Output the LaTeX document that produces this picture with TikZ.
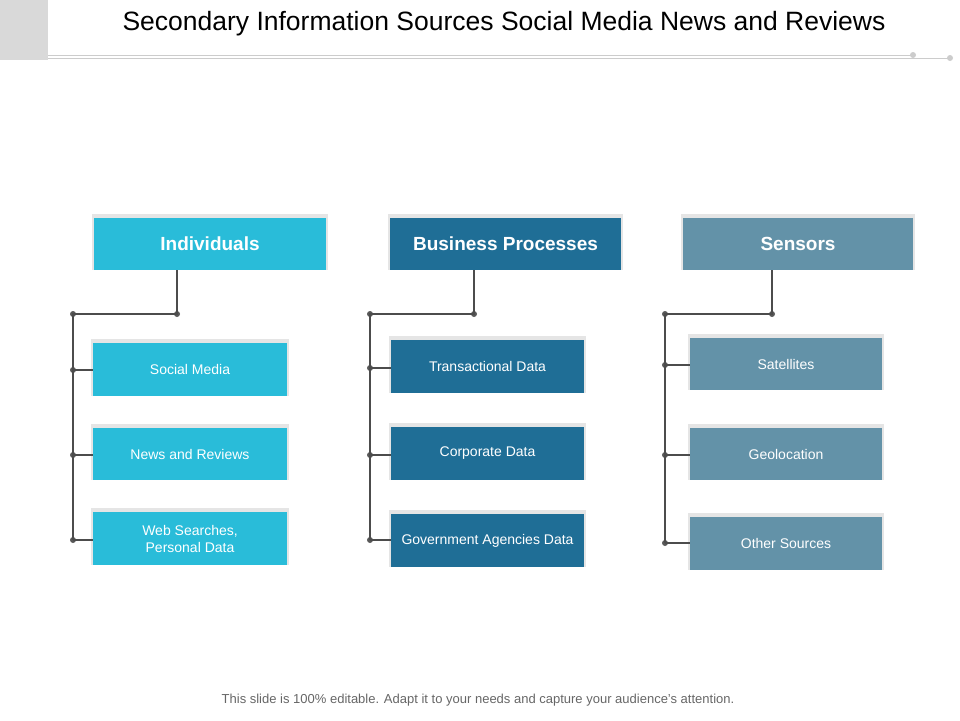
\documentclass[tikz,border=0pt]{standalone}
\usepackage{fontspec}
\setmainfont{Liberation Sans}
\begin{document}
\begin{tikzpicture}[x=1pt,y=-1pt,
  hd/.style={font=\bfseries\fontsize{19}{22}\selectfont,text=white,inner sep=0},
  sb/.style={font=\fontsize{14}{17}\selectfont,text=white,align=center,inner sep=0},
  ln/.style={draw=black!70,line width=1.1pt},
  dt/.style={circle,fill=black!65,inner sep=0,minimum size=6pt}]
\definecolor{cA}{HTML}{29BCD9}\definecolor{cB}{HTML}{1F6E96}\definecolor{cC}{HTML}{6392A8}
\useasboundingbox (0,0) rectangle (960,720);
\fill[black!15] (0,0) rectangle (48,60);
\draw[black!20] (48,55) -- (913,55);
\draw[black!20] (48,58) -- (950,58);
\node[dt,fill=black!20] (t1) at (913,55) {};
\node[dt,fill=black!20] (t2) at (950,58) {};
\node (title) at (504,24) {\fontsize{26.5}{30}\selectfont Secondary Information Sources Social Media News and Reviews};
\node (foot) at (478,700) {\fontsize{13}{15}\selectfont\color{black!60}This slide is 100\% editable. Adapt it to your needs and capture your audience's attention.};
\newcommand\bx[7]{%
  \fill[black!10] (#3-2,#4-4) rectangle (#5+2,#6);
  \fill[#2] (#3,#4) rectangle (#5,#6);
  \node[#7] (#1) at ({(#3+#5)/2},{(#4+#6)/2}) {};}
\newcommand\lab[3]{\node[#2] at (#1) {#3};}
\bx{h1}{cA}{94}{218}{326}{270}{inner sep=0}\lab{h1}{hd}{Individuals}
\bx{h2}{cB}{390}{218}{621}{270}{inner sep=0}\lab{h2}{hd}{Business Processes}
\bx{h3}{cC}{683}{218}{913}{270}{inner sep=0}\lab{h3}{hd}{Sensors}
\bx{a1}{cA}{93}{343}{287}{396}{inner sep=0}\lab{a1}{sb}{Social Media}
\bx{a2}{cA}{93}{428}{287}{480}{inner sep=0}\lab{a2}{sb}{News and Reviews}
\bx{a3}{cA}{93}{512}{287}{565}{inner sep=0}\lab{a3}{sb}{Web Searches,\\Personal Data}
\bx{b1}{cB}{391}{340}{584}{393}{inner sep=0}\lab{b1}{sb}{Transactional Data}
\bx{b2}{cB}{391}{427}{584}{480}{inner sep=0}\lab{b2}{sb}{Corporate Data}
\bx{b3}{cB}{391}{514}{584}{567}{inner sep=0}\lab{b3}{sb}{Government Agencies Data}
\bx{c1}{cC}{690}{338}{882}{390}{inner sep=0}\lab{c1}{sb}{Satellites}
\bx{c2}{cC}{690}{428}{882}{480}{inner sep=0}\lab{c2}{sb}{Geolocation}
\bx{c3}{cC}{690}{517}{882}{570}{inner sep=0}\lab{c3}{sb}{Other Sources}
\foreach \h/\hx/\vx/\ya/\yb/\yc/\la/\lb/\lc/\p in {h1/177/73/370/455/540/93/93/93/a,h2/474/370/368/455/540/391/391/391/b,h3/772/665/365/455/543/690/690/690/c}{
  \node[dt] (\p hd) at (\hx,314) {};
  \node[dt] (\p tp) at (\vx,314) {};
  \node[dt] (\p d1) at (\vx,\ya) {};
  \node[dt] (\p d2) at (\vx,\yb) {};
  \node[dt] (\p d3) at (\vx,\yc) {};
  \draw[ln] (\hx,270) -- (\p hd.center) -- (\p tp.center) -- (\p d3.center);
  \draw[ln] (\p d1.center) -- (\la,\ya);
  \draw[ln] (\p d2.center) -- (\lb,\yb);
  \draw[ln] (\p d3.center) -- (\lc,\yc);
}
\end{tikzpicture}
\end{document}
